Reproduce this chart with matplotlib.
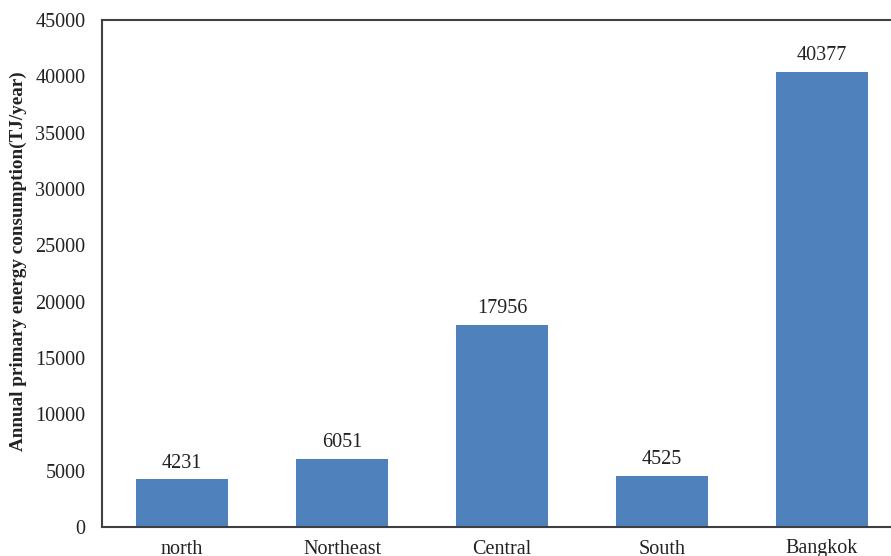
import numpy as np
import matplotlib.pyplot as plt

plt.rcParams['font.family'] = ['Liberation Serif', 'DejaVu Serif']

regions = ['north', 'Northeast', 'Central', 'South', 'Bangkok']
consumption = [4231, 6051, 17956, 4525, 40377]
yticks = np.arange(0, 45001, 5000)

fig = plt.figure(figsize=(8.91, 5.56), dpi=100)
# axes runs a bit past the right edge of the figure
ax = fig.add_axes([102 / 891, 29 / 556, 800 / 891, 507 / 556])

x = np.arange(len(regions))
bars = ax.bar(x, consumption, width=0.57, color='#4F81BD', zorder=2)
for b, v in zip(bars, consumption):
    ax.text(b.get_x() + b.get_width() / 2, v + 600, str(v),
            ha='center', va='bottom', fontsize=14.5, color='#222222')

ax.set_xlim(-0.5, len(regions) - 0.5)
ax.set_ylim(0, 45000)
ax.set_yticks(yticks)
ax.set_yticklabels([str(t) for t in yticks], fontsize=14.5, color='#222222')
ax.set_xticks(x)
ax.set_xticklabels(regions, fontsize=14.5, color='#222222')
ax.tick_params(length=0)
ax.tick_params(axis='x', pad=9)
ax.tick_params(axis='y', pad=12)

for s in ax.spines.values():
    s.set_color('#404040')
    s.set_linewidth(1.5)

fig.text(18 / 891, 1 - 261 / 556, 'Annual primary energy consumption(TJ/year)',
         rotation=90, ha='center', va='center', fontsize=13.8,
         fontweight='bold', color='#222222')

fig.savefig('out.png', dpi=100)
